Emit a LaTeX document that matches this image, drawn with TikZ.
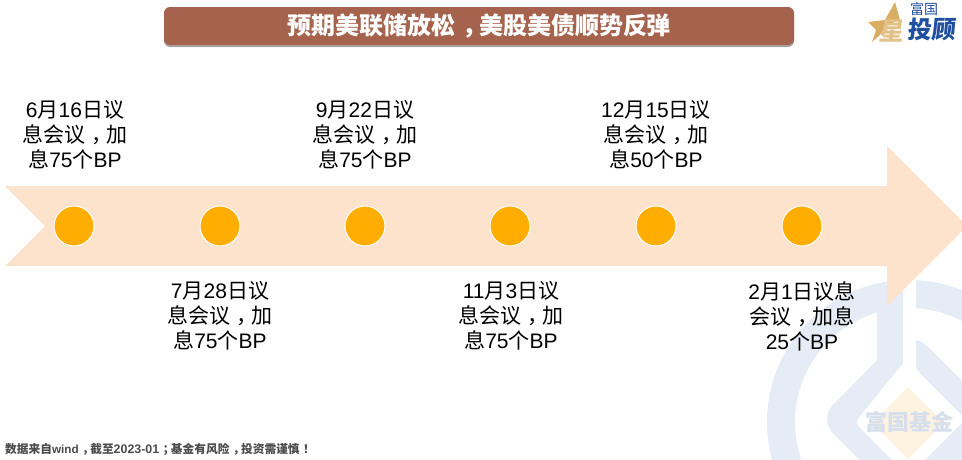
\documentclass[tikz,border=0pt]{standalone}
\usepackage{fontspec}
\setmainfont{Liberation Sans}
\newfontfamily\cjk{Noto Sans CJK SC}
\usetikzlibrary{shadows}
\newcommand{\C}[1]{{\cjk #1}}
\newcommand{\Cm}{\makebox[1em][l]{\cjk\hspace{.3em}，}}
\newcommand{\Cb}[1]{\makebox[1em][l]{\cjk\bfseries\hspace{.3em}#1}}
\definecolor{barc}{HTML}{A5634D}
\definecolor{arrowc}{HTML}{FDE3CC}
\definecolor{dotc}{HTML}{FFAD00}
\definecolor{wmc}{HTML}{E6ECF6}
\definecolor{wmy}{HTML}{FDF3E0}
\definecolor{wmt}{HTML}{D6DFEB}
\definecolor{logog}{HTML}{D9AE62}
\definecolor{logob}{HTML}{1F4F9E}
\tikzset{
  lbl/.style={font=\fontsize{21}{25}\selectfont, align=center, text=black, inner sep=0pt, anchor=center},
  dot/.style={circle, draw=white, line width=1pt, fill=dotc, minimum size=40pt, inner sep=0pt},
}
\begin{document}
\begin{tikzpicture}[x=1pt,y=-1pt]
\useasboundingbox (0,0) rectangle (962,459);
\fill[white] (0,0) rectangle (962,459);
% watermark
\begin{scope}
\clip (0,0) rectangle (962,459);
\fill[wmc,even odd rule] (909,422) circle[radius=142] (909,422) circle[radius=114];
\fill[white] (903,270) rectangle (916,320);
\fill[wmc] (877,295) -- (903,283) -- (903,360) .. controls (903,364) and (901,366) .. (899,368)
  -- (860,416) .. controls (856,420) and (856,424) .. (860,428) -- (895,463) -- (863,463)
  -- (831,431) .. controls (826,425) and (826,413) .. (831,407) -- (877,360) -- cycle;
\fill[wmc] (916,340) .. controls (921,341) and (925,344) .. (929,348) -- (964,383) -- (964,417)
  -- (920,373) .. controls (917,370) and (916,368) .. (916,365) -- cycle;
\fill[wmc] (964,421) -- (964,463) -- (922,463) -- cycle;
\fill[wmy] (908,387) -- (944,423) -- (908,459) -- (872,423) -- cycle;
\node[font=\cjk\bfseries\fontsize{22}{22}\selectfont, text=wmt, inner sep=0pt] (wmtext) at (909,422) {富国基金};
\end{scope}
% title bar
\node[fill=barc, rounded corners=6pt, minimum width=630pt, minimum height=38pt, inner sep=0pt,
  drop shadow={shadow xshift=0pt, shadow yshift=-2pt, opacity=.35, fill=black},
  text=white, font=\cjk\bfseries\fontsize{24}{24}\selectfont] (title) at (479,26) {预期美联储放松\Cb{，}美股美债顺势反弹};
% logo
\fill[logog] (895,2) -- (900,20) -- (887,25) -- (879,36) -- (872,42) -- (876,30) -- (868,22) -- (885,20) -- cycle;
\node[font=\cjk\bfseries\fontsize{25}{25}\selectfont, text=logog!75!white, inner sep=0pt, xslant=.15] (star) at (892,31) {星};
\node[font=\cjk\bfseries\fontsize{24}{24}\selectfont, text=logob, inner sep=0pt, xslant=.1] (tg) at (932,30) {投顾};
\node[font=\cjk\fontsize{14}{14}\selectfont, text=logob, inner sep=0pt] (fg) at (924,9) {富国};
% arrow
\begin{scope}
\clip (0,0) rectangle (962,459);
\fill[arrowc] (5,186) -- (887,186) -- (887,146) -- (967,226) -- (887,306) -- (887,266) -- (5,266) -- (45,226) -- cycle;
\end{scope}
% dots
\node[dot] (d1) at (74,226) {};
\node[dot] (d2) at (220,226) {};
\node[dot] (d3) at (365,226) {};
\node[dot] (d4) at (510,226) {};
\node[dot] (d5) at (656,226) {};
\node[dot] (d6) at (802,226) {};
% labels
\node[lbl] (l1) at (75,135) {6\C{月}16\C{日议}\\\C{息会议}\Cm\C{加}\\\C{息}75\C{个}BP};
\node[lbl] (l3) at (365,135) {9\C{月}22\C{日议}\\\C{息会议}\Cm\C{加}\\\C{息}75\C{个}BP};
\node[lbl] (l5) at (656,135) {12\C{月}15\C{日议}\\\C{息会议}\Cm\C{加}\\\C{息}50\C{个}BP};
\node[lbl] (l2) at (220,316) {7\C{月}28\C{日议}\\\C{息会议}\Cm\C{加}\\\C{息}75\C{个}BP};
\node[lbl] (l4) at (511,316) {11\C{月}3\C{日议}\\\C{息会议}\Cm\C{加}\\\C{息}75\C{个}BP};
\node[lbl] (l6) at (802,316) {2\C{月}1\C{日议息}\\\C{会议}\Cm\C{加息}\\25\C{个}BP};
% footer
\node[anchor=west, inner sep=0pt, text=black!70, font=\bfseries\fontsize{11.7}{12}\selectfont] (src) at (5,449)
 {\C{\bfseries 数据来自}wind\Cb{，}\C{\bfseries 截至}{\fontsize{12.4}{12}\selectfont 2023-01}\Cb{；}\C{\bfseries 基金有风险}\Cb{，}\C{\bfseries 投资需谨慎}\Cb{！}};
\end{tikzpicture}
\end{document}
